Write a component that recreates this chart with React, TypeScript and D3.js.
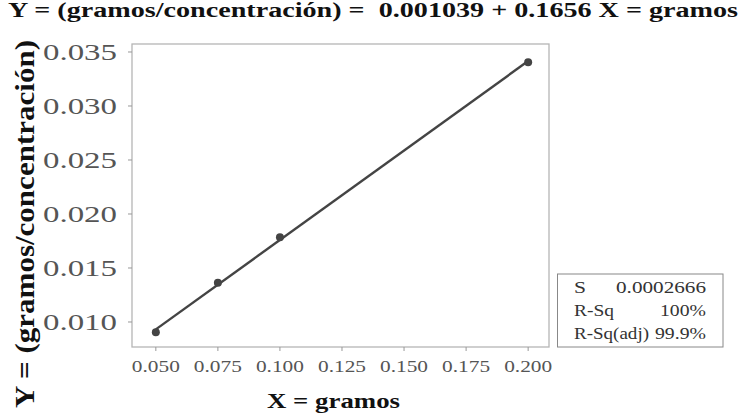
import React from "react";
import * as d3 from "d3";

const xData = [0.05, 0.075, 0.1, 0.2];
const yData = [0.00905, 0.01364, 0.01784, 0.03405];
const xTicks = [0.05, 0.075, 0.1, 0.125, 0.15, 0.175, 0.2];
const yTicks = [0.01, 0.015, 0.02, 0.025, 0.03, 0.035];
const intercept = 0.001039;
const slope = 0.1656;
const titleText = "Y = (gramos/concentración) =  0.001039 + 0.1656 X = gramos";
const yTitle = "Y = (gramos/concentración)";
const xTitle = "X = gramos";
const statLabels = ["S", "R-Sq", "R-Sq(adj)"];
const statValues = ["0.0002666", "100%", "99.9%"];

// rendered widths (layout only)
const labelWidths = [12, 40, 75];
const valueWidths = [90, 46, 51];

export default function App() {
  const W = 746, H = 417;
  const L = 132, R = 549, T = 44, B = 347;
  const x = d3.scaleLinear().domain([0.0404, 0.2084]).range([L, R]);
  const y = d3.scaleLinear().domain([0.007685, 0.03574]).range([B, T]);
  const fitX = [0.05, 0.2];
  const line = d3.line<number>().x((d) => x(d)).y((d) => y(intercept + slope * d));
  const serif = "Liberation Serif, serif";
  return (
    <svg width={W} height={H} style={{ position: "absolute", left: 0, top: 0, background: "#fff" }}>
      <rect x={0} y={0} width={W} height={H} fill="#fff" />
      <text x={8} y={17} fontFamily={serif} fontWeight="bold" fontSize={20} fill="#111"
        textLength={730} lengthAdjust="spacingAndGlyphs" style={{ whiteSpace: "pre" }}>{titleText}</text>
      <rect x={L} y={T} width={R - L} height={B - T} fill="none" stroke="#b5b5b5" strokeWidth={1.3} />
      {yTicks.map((t) => (
        <g key={"y" + t}>
          <line x1={L - 4} x2={L} y1={y(t)} y2={y(t)} stroke="#999" strokeWidth={1} />
          <text x={117} y={y(t) + 8} textAnchor="end" fontFamily={serif} fontSize={23} fill="#555"
            textLength={74} lengthAdjust="spacingAndGlyphs">{t.toFixed(3)}</text>
        </g>
      ))}
      {xTicks.map((t) => (
        <g key={"x" + t}>
          <line x1={x(t)} x2={x(t)} y1={B} y2={B + 4} stroke="#999" strokeWidth={1} />
          <text x={x(t)} y={372} textAnchor="middle" fontFamily={serif} fontSize={16} fill="#555"
            textLength={48} lengthAdjust="spacingAndGlyphs">{t.toFixed(3)}</text>
        </g>
      ))}
      <path d={line(fitX) || ""} fill="none" stroke="#444" strokeWidth={2.4} />
      {xData.map((d, i) => (
        <circle key={"p" + i} cx={x(d)} cy={y(yData[i])} r={4} fill="#444" />
      ))}
      <text transform="translate(34,408) rotate(-90)" fontFamily={serif} fontWeight="bold" fontSize={27}
        fill="#111" textLength={368} lengthAdjust="spacingAndGlyphs">{yTitle}</text>
      <text x={333.5} y={408} textAnchor="middle" fontFamily={serif} fontWeight="bold" fontSize={21}
        fill="#111" textLength={133} lengthAdjust="spacingAndGlyphs">{xTitle}</text>
      <rect x={557.5} y={274} width={165.5} height={73} fill="#fff" stroke="#888" strokeWidth={1} />
      {statLabels.map((s, i) => (
        <text key={"sl" + i} x={574} y={293 + i * 23} fontFamily={serif} fontSize={17} fill="#333"
          textLength={labelWidths[i]} lengthAdjust="spacingAndGlyphs">{s}</text>
      ))}
      {statValues.map((s, i) => (
        <text key={"sv" + i} x={706} y={293 + i * 23} textAnchor="end" fontFamily={serif} fontSize={17} fill="#333"
          textLength={valueWidths[i]} lengthAdjust="spacingAndGlyphs">{s}</text>
      ))}
    </svg>
  );
}
